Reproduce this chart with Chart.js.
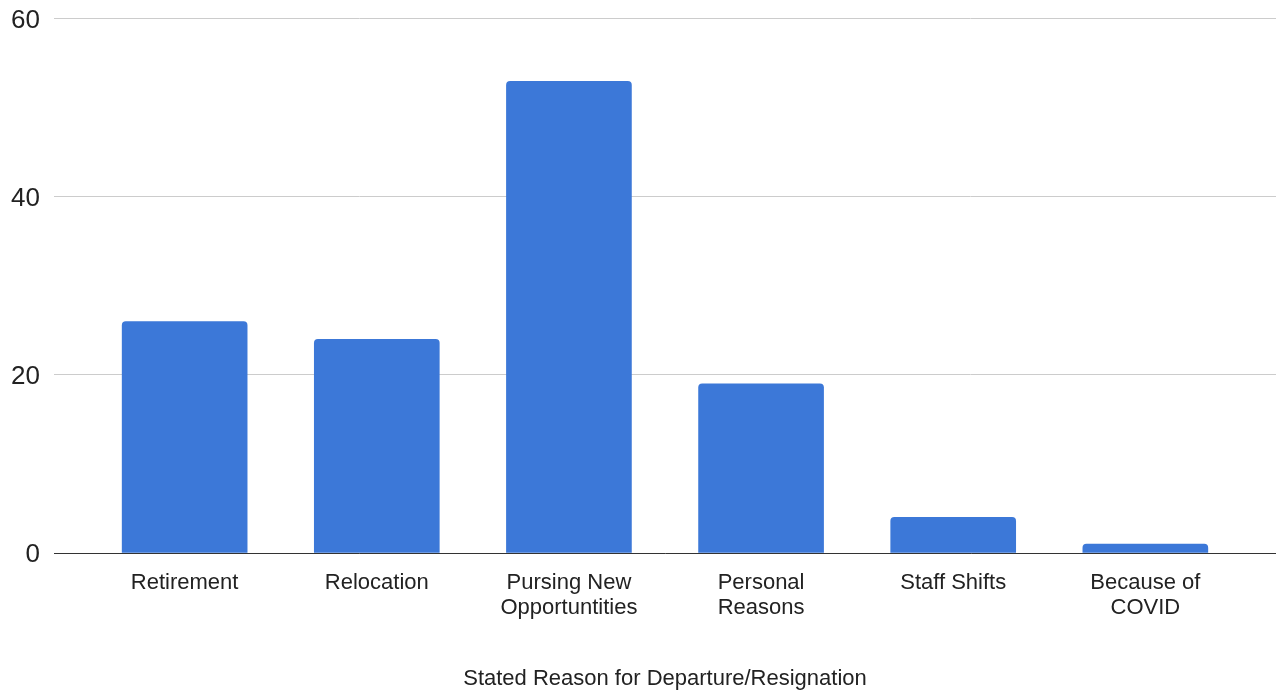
<!DOCTYPE html>
<html>
<head>
<meta charset="utf-8">
<script src="https://cdn.jsdelivr.net/npm/chart.js@4"></script>
<style>
    html, body { margin: 0; padding: 0; background: #fff; }
    #wrap { width: 1276px; height: 692px; }
</style>
</head>
<body>
<div id="wrap"><canvas id="reasonChart"></canvas></div>
<script>
// Chart data
const reasons = [
    'Retirement',
    'Relocation',
    ['Pursing New', 'Opportuntities'],
    ['Personal', 'Reasons'],
    'Staff Shifts',
    ['Because of', 'COVID']
];
const departures = [26, 24, 53, 19, 4, 1];
const yTicks = [0, 20, 40, 60];

const fontFamily = '"Liberation Sans", Arial, sans-serif';

// linear x so the category band can sit inside a wider plot area
const points = departures.map((v, i) => ({ x: i, y: v }));

new Chart(document.getElementById('reasonChart'), {
    type: 'bar',
    data: {
        datasets: [{
            label: 'Count',
            data: points,
            backgroundColor: '#3c78d8',
            barThickness: 125,
            borderRadius: 4,
            borderSkipped: 'start'
        }]
    },
    options: {
        responsive: true,
        maintainAspectRatio: false,
        animation: false,
        layout: {
            padding: { top: 0, right: 0, bottom: 0, left: 0 }
        },
        plugins: {
            legend: { display: false },
            tooltip: { enabled: false }
        },
        scales: {
            x: {
                type: 'linear',
                min: -0.68,
                max: 5.68,
                offset: false,
                z: 1,
                grid: { display: false },
                border: { display: true, color: '#333', width: 1 },
                afterBuildTicks: (scale) => {
                    scale.ticks = reasons.map((_, i) => ({ value: i }));
                },
                ticks: {
                    autoSkip: false,
                    maxRotation: 0,
                    padding: 9,
                    color: '#222',
                    font: { family: fontFamily, size: 22, lineHeight: 1.15 },
                    callback: (value) => reasons[value]
                },
                title: {
                    display: true,
                    text: 'Stated Reason for Departure/Resignation',
                    color: '#222',
                    font: { family: fontFamily, size: 22 },
                    padding: { top: 36, bottom: 0 }
                }
            },
            y: {
                min: 0,
                max: 60,
                border: { display: false },
                grid: {
                    color: '#cccccc',
                    lineWidth: 1,
                    drawTicks: false
                },
                afterBuildTicks: (scale) => {
                    scale.ticks = yTicks.map(v => ({ value: v }));
                },
                afterFit: (scale) => {
                    scale.width = 54;
                },
                ticks: {
                    padding: 14,
                    labelOffset: 2,
                    color: '#222',
                    // small lineHeight keeps the top label from pushing the plot down
                    font: { family: fontFamily, size: 26, lineHeight: 0.38 }
                }
            }
        }
    }
});
</script>
</body>
</html>
